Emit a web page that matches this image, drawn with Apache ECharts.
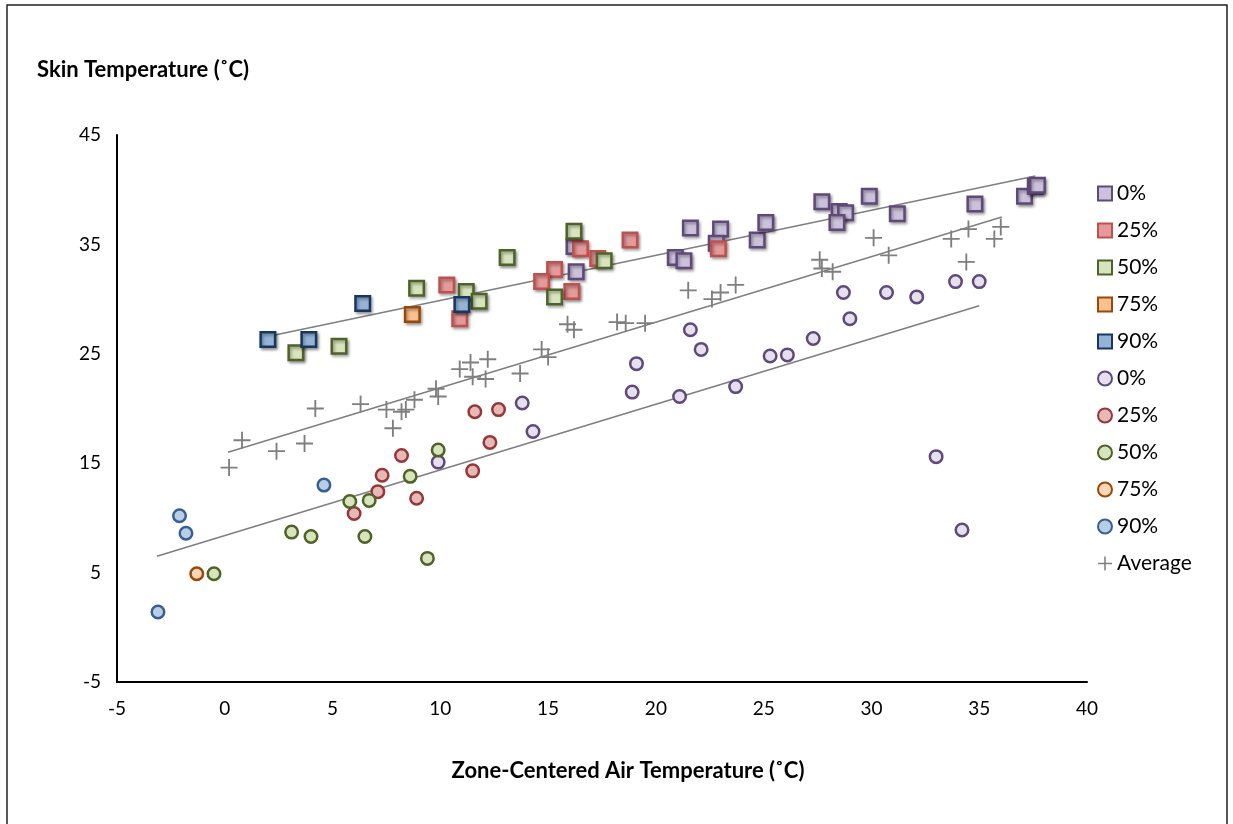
<!DOCTYPE html>
<html>
<head>
<meta charset="utf-8">
<script src="https://cdn.jsdelivr.net/npm/echarts@6/dist/echarts.min.js"></script>
<style>
  html, body { margin: 0; padding: 0; background: #fff; }
  #chart { width: 1233px; height: 824px; }
</style>
</head>
<body>
<div id="chart"></div>
<script>
// Skin temperature vs zone-centered air temperature, by coverage level.
// Squares: one group of conditions; circles: the other; crosses: average.

// [air °C, skin °C]
const sq0 = [[16.3,32.5],[16.2,34.8],[21.6,36.5],[20.9,33.8],[21.3,33.5],[23.0,36.4],[22.8,35.1],
  [24.7,35.4],[25.1,37.0],[27.7,38.9],[28.5,38.0],[28.8,37.9],[28.4,37.0],[29.9,39.4],[31.2,37.8],
  [34.8,38.7],[37.1,39.4],[37.6,40.3],[37.7,40.4]];
const sq25 = [[10.3,31.3],[10.9,28.2],[16.5,34.6],[17.3,33.7],[18.8,35.4],[15.3,32.7],[14.7,31.6],
  [16.1,30.7],[22.9,34.6]];
const sq50 = [[8.9,31.0],[11.2,30.7],[11.8,29.8],[3.3,25.1],[5.3,25.7],[16.2,36.2],[17.6,33.5],
  [15.3,30.2],[13.1,33.8]];
const sq75 = [[8.7,28.6]];
const sq90 = [[2.0,26.3],[3.9,26.3],[6.4,29.6],[11.0,29.5]];

const ci0 = [[9.9,15.1],[13.8,20.5],[14.3,17.9],[19.1,24.1],[18.9,21.5],[21.1,21.1],[22.1,25.4],
  [21.6,27.2],[23.7,22.0],[25.3,24.8],[26.1,24.9],[27.3,26.4],[29.0,28.2],[28.7,30.6],[30.7,30.6],
  [32.1,30.2],[33.9,31.6],[35.0,31.6],[33.0,15.6],[34.2,8.9]];
const ci25 = [[11.6,19.7],[12.7,19.9],[12.3,16.9],[11.5,14.3],[8.2,15.7],[7.3,13.9],[7.1,12.4],
  [8.9,11.8],[6.0,10.4]];
const ci50 = [[9.9,16.2],[8.6,13.8],[5.8,11.5],[6.7,11.6],[3.1,8.7],[4.0,8.3],[6.5,8.3],[9.4,6.3],
  [-0.5,4.9]];
const ci75 = [[-1.3,4.9]];
const ci90 = [[-2.1,10.2],[-1.8,8.6],[4.6,13.0],[-3.1,1.4]];

const avg = [[0.2,14.6],[0.8,17.1],[2.4,16.1],[3.7,16.8],[4.2,20.0],[6.3,20.4],[7.5,19.9],[7.8,18.2],
  [8.2,19.7],[8.4,19.9],[8.8,20.8],[9.8,21.8],[9.9,21.1],[10.9,23.6],[11.4,24.2],[11.5,22.9],
  [12.2,24.5],[12.1,22.7],[13.7,23.2],[14.7,25.4],[15.0,24.7],[15.9,27.7],[16.2,27.2],[18.2,27.9],
  [18.6,27.8],[19.5,27.8],[21.5,30.8],[22.6,30.0],[23.0,30.6],[23.7,31.3],[27.6,33.6],[27.7,32.8],
  [28.2,32.5],[30.1,35.6],[30.8,34.0],[33.7,35.5],[34.4,33.4],[34.5,36.4],[35.7,35.5],[36.0,36.6]];

// linear trend lines (start and end points)
const trendSquares = [[2.05,26.6],[37.6,41.25]];
const trendAverage = [[0.15,16.0],[36.05,37.5]];
const trendCircles = [[-3.15,6.5],[35.0,29.4]];

const xTicks = { min: -5, max: 40, step: 5 };
const yTicks = { min: -5, max: 45, step: 10 };

const FONT = 'Lato, "Open Sans", sans-serif';
const plusPath = 'path://M4.45,0 H5.55 V4.45 H10 V5.55 H5.55 V10 H4.45 V5.55 H0 V4.45 H4.45 Z';

function squareSeries(name, data, fill, stroke) {
  return {
    name, type: 'scatter', data, symbol: 'rect', symbolSize: 14.5,
    itemStyle: { color: fill, borderColor: stroke, borderWidth: 2.5, opacity: 1,
      shadowBlur: 3, shadowOffsetX: 1.5, shadowOffsetY: 2, shadowColor: 'rgba(0,0,0,0.35)' },
    emphasis: { disabled: true }
  };
}
function circleSeries(name, data, fill, stroke) {
  return {
    name, type: 'scatter', data, symbol: 'circle', symbolSize: 12.5,
    itemStyle: { color: fill, borderColor: stroke, borderWidth: 2.5, opacity: 1 },
    emphasis: { disabled: true }
  };
}
function trendSeries(data) {
  return {
    type: 'line', data, symbol: 'none', silent: true,
    lineStyle: { color: '#7f7f7f', width: 1.6 }, z: 1
  };
}

const series = [
  trendSeries(trendSquares), trendSeries(trendAverage), trendSeries(trendCircles),
  squareSeries('0%', sq0, '#ccc1da', '#5f497a'),
  squareSeries('25%', sq25, '#e39a99', '#c0504d'),
  squareSeries('50%', sq50, '#d7e4bd', '#4f6228'),
  squareSeries('75%', sq75, '#fac090', '#984807'),
  squareSeries('90%', sq90, '#95b3d7', '#17375e'),
  circleSeries('0% ', ci0, '#e5e0ec', '#5f497a'),
  circleSeries('25% ', ci25, '#e6b9b8', '#953735'),
  circleSeries('50% ', ci50, '#d7e4bd', '#4f6228'),
  circleSeries('75% ', ci75, '#fcd5b5', '#984807'),
  circleSeries('90% ', ci90, '#b9cde5', '#376092'),
  {
    name: 'Average', type: 'scatter', data: avg, symbol: plusPath, symbolSize: 17,
    itemStyle: { color: '#7f7f7f', opacity: 1 }, emphasis: { disabled: true }
  }
];

const chart = echarts.init(document.getElementById('chart'), null, { renderer: 'canvas' });
chart.setOption({
  animation: false,
  backgroundColor: '#fff',
  grid: { left: 117, right: 146, top: 135, bottom: 142, containLabel: false },
  xAxis: {
    type: 'value', min: xTicks.min, max: xTicks.max, interval: xTicks.step,
    axisLine: { onZero: false, lineStyle: { color: '#000', width: 2 } },
    axisTick: { show: false }, splitLine: { show: false },
    axisLabel: { margin: 17, color: '#000', fontSize: 19, fontFamily: FONT }
  },
  yAxis: {
    type: 'value', min: yTicks.min, max: yTicks.max, interval: yTicks.step,
    axisLine: { show: true, onZero: false, lineStyle: { color: '#000', width: 2 } },
    axisTick: { show: false }, splitLine: { show: false },
    axisLabel: { margin: 16, color: '#000', fontSize: 19, fontFamily: FONT }
  },
  legend: {
    orient: 'vertical', left: 1092, top: 178,
    itemWidth: 14, itemHeight: 14, itemGap: 16,
    textStyle: { fontSize: 21, color: '#000', fontFamily: FONT },
    formatter: n => n.trim(),
    selectedMode: false,
    data: ['0%', '25%', '50%', '75%', '90%', '0% ', '25% ', '50% ', '75% ', '90% ', 'Average']
  },
  graphic: [
    { type: 'rect', shape: { x: 7, y: 5, width: 1220, height: 830 }, silent: true,
      style: { fill: 'none', stroke: '#222', lineWidth: 1.5 } },
    { type: 'text', left: 37, top: 59, silent: true,
      style: { text: 'Skin Temperature (˚C)', fontSize: 22, fontWeight: 'bold', fill: '#000', fontFamily: FONT } },
    { type: 'text', x: 628, y: 771, silent: true,
      style: { text: 'Zone-Centered Air Temperature (˚C)', fontSize: 22, fontWeight: 'bold', fill: '#000',
        fontFamily: FONT, align: 'center', verticalAlign: 'middle' } }
  ],
  series
});
</script>
</body>
</html>
